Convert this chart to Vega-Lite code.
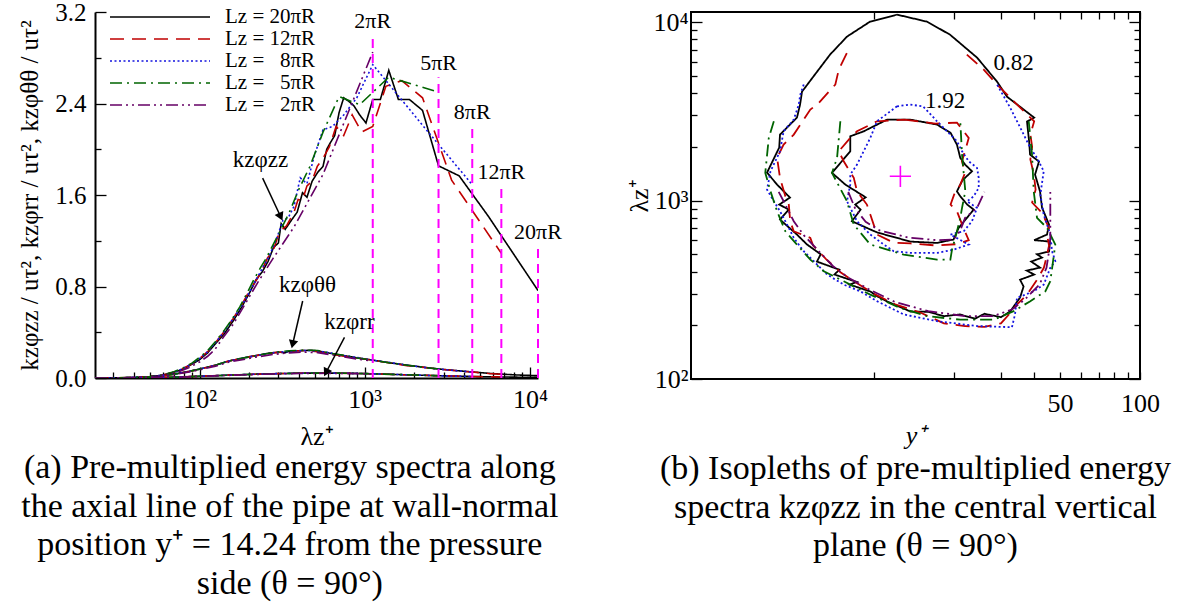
{
"$schema":"https://vega.github.io/schema/vega-lite/v6.json",
"background":"white",
"padding":{"left":17,"top":0,"right":5,"bottom":5},
"config":{"font":"Liberation Serif","view":{"stroke":null},
"axis":{"labelFont":"Liberation Serif","titleFont":"Liberation Serif","labelColor":"#000","titleColor":"#000","tickColor":"#000","domainColor":"#000","titleFontWeight":"normal","grid":false,"tickWidth":1.3,"labelFlush":false},
"legend":{"labelFont":"Liberation Serif","labelColor":"#000"},
"text":{"font":"Liberation Serif"},
"title":{"font":"Liberation Serif","fontWeight":"normal","color":"#000"}},
"datasets":{
"spec":[
{"c":"20πR","k":"zz","x":23.3,"y":0},{"c":"20πR","k":"zz","x":30,"y":0},{"c":"20πR","k":"zz","x":40,"y":0.003},{"c":"20πR","k":"zz","x":50,"y":0.01},{"c":"20πR","k":"zz","x":60,"y":0.025},{"c":"20πR","k":"zz","x":70,"y":0.05},{"c":"20πR","k":"zz","x":80,"y":0.08},{"c":"20πR","k":"zz","x":90,"y":0.12},{"c":"20πR","k":"zz","x":100,"y":0.16},{"c":"20πR","k":"zz","x":112,"y":0.22},{"c":"20πR","k":"zz","x":125,"y":0.3},{"c":"20πR","k":"zz","x":140,"y":0.38},{"c":"20πR","k":"zz","x":160,"y":0.5},{"c":"20πR","k":"zz","x":180,"y":0.62},{"c":"20πR","k":"zz","x":200,"y":0.74},{"c":"20πR","k":"zz","x":220,"y":0.86},{"c":"20πR","k":"zz","x":240,"y":0.93},{"c":"20πR","k":"zz","x":260,"y":1.02},{"c":"20πR","k":"zz","x":280,"y":1.14},{"c":"20πR","k":"zz","x":300,"y":1.18},{"c":"20πR","k":"zz","x":312,"y":1.35},{"c":"20πR","k":"zz","x":330,"y":1.3},{"c":"20πR","k":"zz","x":360,"y":1.38},{"c":"20πR","k":"zz","x":390,"y":1.45},{"c":"20πR","k":"zz","x":420,"y":1.62},{"c":"20πR","k":"zz","x":447,"y":1.58},{"c":"20πR","k":"zz","x":480,"y":1.72},{"c":"20πR","k":"zz","x":520,"y":1.8},{"c":"20πR","k":"zz","x":559,"y":1.85},{"c":"20πR","k":"zz","x":589,"y":2.0},{"c":"20πR","k":"zz","x":621,"y":2.06},{"c":"20πR","k":"zz","x":658,"y":2.12},{"c":"20πR","k":"zz","x":699,"y":2.32},{"c":"20πR","k":"zz","x":746,"y":2.45},{"c":"20πR","k":"zz","x":799,"y":2.42},{"c":"20πR","k":"zz","x":860,"y":2.38},{"c":"20πR","k":"zz","x":932,"y":2.3},{"c":"20πR","k":"zz","x":1017,"y":2.23},{"c":"20πR","k":"zz","x":1118,"y":2.435},{"c":"20πR","k":"zz","x":1243,"y":2.435},{"c":"20πR","k":"zz","x":1398,"y":2.69},{"c":"20πR","k":"zz","x":1598,"y":2.435},{"c":"20πR","k":"zz","x":1864,"y":2.435},{"c":"20πR","k":"zz","x":2237,"y":2.34},{"c":"20πR","k":"zz","x":2796,"y":1.855},{"c":"20πR","k":"zz","x":3728,"y":1.767},{"c":"20πR","k":"zz","x":5592,"y":1.415},{"c":"20πR","k":"zz","x":11184,"y":0.765},
{"c":"12πR","k":"zz","x":23.3,"y":0},{"c":"12πR","k":"zz","x":30,"y":0},{"c":"12πR","k":"zz","x":40,"y":0.003},{"c":"12πR","k":"zz","x":50,"y":0.01},{"c":"12πR","k":"zz","x":60,"y":0.025},{"c":"12πR","k":"zz","x":70,"y":0.05},{"c":"12πR","k":"zz","x":80,"y":0.085},{"c":"12πR","k":"zz","x":90,"y":0.125},{"c":"12πR","k":"zz","x":100,"y":0.17},{"c":"12πR","k":"zz","x":112,"y":0.23},{"c":"12πR","k":"zz","x":125,"y":0.31},{"c":"12πR","k":"zz","x":140,"y":0.4},{"c":"12πR","k":"zz","x":160,"y":0.52},{"c":"12πR","k":"zz","x":180,"y":0.64},{"c":"12πR","k":"zz","x":200,"y":0.76},{"c":"12πR","k":"zz","x":224,"y":0.87},{"c":"12πR","k":"zz","x":240,"y":0.95},{"c":"12πR","k":"zz","x":258,"y":1.05},{"c":"12πR","k":"zz","x":280,"y":1.12},{"c":"12πR","k":"zz","x":305,"y":1.28},{"c":"12πR","k":"zz","x":336,"y":1.33},{"c":"12πR","k":"zz","x":373,"y":1.45},{"c":"12πR","k":"zz","x":395,"y":1.56},{"c":"12πR","k":"zz","x":419,"y":1.55},{"c":"12πR","k":"zz","x":447,"y":1.68},{"c":"12πR","k":"zz","x":479,"y":1.72},{"c":"12πR","k":"zz","x":516,"y":1.85},{"c":"12πR","k":"zz","x":559,"y":1.92},{"c":"12πR","k":"zz","x":610,"y":2.02},{"c":"12πR","k":"zz","x":671,"y":2.2},{"c":"12πR","k":"zz","x":746,"y":2.12},{"c":"12πR","k":"zz","x":839,"y":2.3},{"c":"12πR","k":"zz","x":959,"y":2.15},{"c":"12πR","k":"zz","x":1118,"y":2.2},{"c":"12πR","k":"zz","x":1342,"y":2.55},{"c":"12πR","k":"zz","x":1677,"y":2.6},{"c":"12πR","k":"zz","x":2237,"y":2.45},{"c":"12πR","k":"zz","x":3355,"y":1.73},{"c":"12πR","k":"zz","x":6710,"y":1.09},
{"c":"8πR","k":"zz","x":23.3,"y":0},{"c":"8πR","k":"zz","x":30,"y":0},{"c":"8πR","k":"zz","x":40,"y":0.003},{"c":"8πR","k":"zz","x":50,"y":0.01},{"c":"8πR","k":"zz","x":60,"y":0.025},{"c":"8πR","k":"zz","x":70,"y":0.05},{"c":"8πR","k":"zz","x":80,"y":0.085},{"c":"8πR","k":"zz","x":90,"y":0.125},{"c":"8πR","k":"zz","x":100,"y":0.17},{"c":"8πR","k":"zz","x":112,"y":0.23},{"c":"8πR","k":"zz","x":125,"y":0.31},{"c":"8πR","k":"zz","x":140,"y":0.4},{"c":"8πR","k":"zz","x":160,"y":0.52},{"c":"8πR","k":"zz","x":180,"y":0.63},{"c":"8πR","k":"zz","x":204,"y":0.77},{"c":"8πR","k":"zz","x":224,"y":0.88},{"c":"8πR","k":"zz","x":249,"y":1.0},{"c":"8πR","k":"zz","x":263,"y":1.06},{"c":"8πR","k":"zz","x":280,"y":1.15},{"c":"8πR","k":"zz","x":298,"y":1.25},{"c":"8πR","k":"zz","x":320,"y":1.38},{"c":"8πR","k":"zz","x":344,"y":1.4},{"c":"8πR","k":"zz","x":373,"y":1.5},{"c":"8πR","k":"zz","x":407,"y":1.75},{"c":"8πR","k":"zz","x":447,"y":1.7},{"c":"8πR","k":"zz","x":497,"y":1.95},{"c":"8πR","k":"zz","x":559,"y":2.17},{"c":"8πR","k":"zz","x":639,"y":2.2},{"c":"8πR","k":"zz","x":746,"y":2.3},{"c":"8πR","k":"zz","x":895,"y":2.45},{"c":"8πR","k":"zz","x":1118,"y":2.74},{"c":"8πR","k":"zz","x":1491,"y":2.52},{"c":"8πR","k":"zz","x":2237,"y":2.21},{"c":"8πR","k":"zz","x":4474,"y":1.69},
{"c":"5πR","k":"zz","x":23.3,"y":0},{"c":"5πR","k":"zz","x":30,"y":0},{"c":"5πR","k":"zz","x":40,"y":0.004},{"c":"5πR","k":"zz","x":50,"y":0.012},{"c":"5πR","k":"zz","x":60,"y":0.028},{"c":"5πR","k":"zz","x":70,"y":0.055},{"c":"5πR","k":"zz","x":80,"y":0.09},{"c":"5πR","k":"zz","x":90,"y":0.13},{"c":"5πR","k":"zz","x":100,"y":0.18},{"c":"5πR","k":"zz","x":112,"y":0.24},{"c":"5πR","k":"zz","x":125,"y":0.32},{"c":"5πR","k":"zz","x":140,"y":0.41},{"c":"5πR","k":"zz","x":155,"y":0.5},{"c":"5πR","k":"zz","x":175,"y":0.62},{"c":"5πR","k":"zz","x":200,"y":0.78},{"c":"5πR","k":"zz","x":215,"y":0.87},{"c":"5πR","k":"zz","x":233,"y":0.96},{"c":"5πR","k":"zz","x":254,"y":1.05},{"c":"5πR","k":"zz","x":280,"y":1.17},{"c":"5πR","k":"zz","x":311,"y":1.3},{"c":"5πR","k":"zz","x":350,"y":1.45},{"c":"5πR","k":"zz","x":399,"y":1.65},{"c":"5πR","k":"zz","x":466,"y":1.85},{"c":"5πR","k":"zz","x":559,"y":2.15},{"c":"5πR","k":"zz","x":699,"y":2.46},{"c":"5πR","k":"zz","x":932,"y":2.39},{"c":"5πR","k":"zz","x":1398,"y":2.63},{"c":"5πR","k":"zz","x":2796,"y":2.5},
{"c":"2πR","k":"zz","x":23.3,"y":0},{"c":"2πR","k":"zz","x":28,"y":0},{"c":"2πR","k":"zz","x":37,"y":0.002},{"c":"2πR","k":"zz","x":47,"y":0.008},{"c":"2πR","k":"zz","x":56,"y":0.017},{"c":"2πR","k":"zz","x":64,"y":0.03},{"c":"2πR","k":"zz","x":75,"y":0.055},{"c":"2πR","k":"zz","x":86,"y":0.09},{"c":"2πR","k":"zz","x":100,"y":0.14},{"c":"2πR","k":"zz","x":112,"y":0.19},{"c":"2πR","k":"zz","x":124,"y":0.25},{"c":"2πR","k":"zz","x":140,"y":0.36},{"c":"2πR","k":"zz","x":160,"y":0.47},{"c":"2πR","k":"zz","x":186,"y":0.63},{"c":"2πR","k":"zz","x":224,"y":0.83},{"c":"2πR","k":"zz","x":280,"y":1.05},{"c":"2πR","k":"zz","x":373,"y":1.32},{"c":"2πR","k":"zz","x":559,"y":1.78},{"c":"2πR","k":"zz","x":1118,"y":2.85},
{"c":"20πR","k":"tt","x":23.3,"y":0},{"c":"20πR","k":"tt","x":30,"y":0.001},{"c":"20πR","k":"tt","x":40,"y":0.004},{"c":"20πR","k":"tt","x":50,"y":0.011},{"c":"20πR","k":"tt","x":60,"y":0.021},{"c":"20πR","k":"tt","x":70,"y":0.034},{"c":"20πR","k":"tt","x":85,"y":0.056},{"c":"20πR","k":"tt","x":100,"y":0.078},{"c":"20πR","k":"tt","x":125,"y":0.113},{"c":"20πR","k":"tt","x":150,"y":0.148},{"c":"20πR","k":"tt","x":190,"y":0.18},{"c":"20πR","k":"tt","x":225,"y":0.199},{"c":"20πR","k":"tt","x":250,"y":0.212},{"c":"20πR","k":"tt","x":280,"y":0.222},{"c":"20πR","k":"tt","x":300,"y":0.226},{"c":"20πR","k":"tt","x":330,"y":0.221},{"c":"20πR","k":"tt","x":350,"y":0.235},{"c":"20πR","k":"tt","x":380,"y":0.238},{"c":"20πR","k":"tt","x":430,"y":0.24},{"c":"20πR","k":"tt","x":470,"y":0.243},{"c":"20πR","k":"tt","x":520,"y":0.237},{"c":"20πR","k":"tt","x":620,"y":0.216},{"c":"20πR","k":"tt","x":750,"y":0.196},{"c":"20πR","k":"tt","x":900,"y":0.176},{"c":"20πR","k":"tt","x":1118,"y":0.156},{"c":"20πR","k":"tt","x":1400,"y":0.134},{"c":"20πR","k":"tt","x":1800,"y":0.113},{"c":"20πR","k":"tt","x":2300,"y":0.093},{"c":"20πR","k":"tt","x":2796,"y":0.079},{"c":"20πR","k":"tt","x":3700,"y":0.063},{"c":"20πR","k":"tt","x":4474,"y":0.053},{"c":"20πR","k":"tt","x":5600,"y":0.041},{"c":"20πR","k":"tt","x":6710,"y":0.034},{"c":"20πR","k":"tt","x":8500,"y":0.026},{"c":"20πR","k":"tt","x":11184,"y":0.02},
{"c":"12πR","k":"tt","x":23.3,"y":0},{"c":"12πR","k":"tt","x":30,"y":0.001},{"c":"12πR","k":"tt","x":40,"y":0.004},{"c":"12πR","k":"tt","x":50,"y":0.01},{"c":"12πR","k":"tt","x":60,"y":0.02},{"c":"12πR","k":"tt","x":70,"y":0.033},{"c":"12πR","k":"tt","x":85,"y":0.055},{"c":"12πR","k":"tt","x":100,"y":0.077},{"c":"12πR","k":"tt","x":125,"y":0.112},{"c":"12πR","k":"tt","x":150,"y":0.148},{"c":"12πR","k":"tt","x":190,"y":0.178},{"c":"12πR","k":"tt","x":225,"y":0.198},{"c":"12πR","k":"tt","x":280,"y":0.22},{"c":"12πR","k":"tt","x":350,"y":0.234},{"c":"12πR","k":"tt","x":430,"y":0.24},{"c":"12πR","k":"tt","x":520,"y":0.229},{"c":"12πR","k":"tt","x":620,"y":0.208},{"c":"12πR","k":"tt","x":750,"y":0.19},{"c":"12πR","k":"tt","x":900,"y":0.175},{"c":"12πR","k":"tt","x":1118,"y":0.155},{"c":"12πR","k":"tt","x":1400,"y":0.133},{"c":"12πR","k":"tt","x":1800,"y":0.108},{"c":"12πR","k":"tt","x":2300,"y":0.092},{"c":"12πR","k":"tt","x":2796,"y":0.078},{"c":"12πR","k":"tt","x":3700,"y":0.062},{"c":"12πR","k":"tt","x":4474,"y":0.052},{"c":"12πR","k":"tt","x":5600,"y":0.04},{"c":"12πR","k":"tt","x":6710,"y":0.033},
{"c":"8πR","k":"tt","x":23.3,"y":0},{"c":"8πR","k":"tt","x":30,"y":0.001},{"c":"8πR","k":"tt","x":40,"y":0.004},{"c":"8πR","k":"tt","x":50,"y":0.01},{"c":"8πR","k":"tt","x":60,"y":0.02},{"c":"8πR","k":"tt","x":70,"y":0.033},{"c":"8πR","k":"tt","x":85,"y":0.055},{"c":"8πR","k":"tt","x":100,"y":0.077},{"c":"8πR","k":"tt","x":125,"y":0.112},{"c":"8πR","k":"tt","x":150,"y":0.148},{"c":"8πR","k":"tt","x":190,"y":0.178},{"c":"8πR","k":"tt","x":225,"y":0.198},{"c":"8πR","k":"tt","x":280,"y":0.22},{"c":"8πR","k":"tt","x":350,"y":0.234},{"c":"8πR","k":"tt","x":430,"y":0.24},{"c":"8πR","k":"tt","x":520,"y":0.236},{"c":"8πR","k":"tt","x":620,"y":0.219},{"c":"8πR","k":"tt","x":750,"y":0.195},{"c":"8πR","k":"tt","x":900,"y":0.179},{"c":"8πR","k":"tt","x":1118,"y":0.155},{"c":"8πR","k":"tt","x":1400,"y":0.137},{"c":"8πR","k":"tt","x":1800,"y":0.112},{"c":"8πR","k":"tt","x":2300,"y":0.092},{"c":"8πR","k":"tt","x":2796,"y":0.078},{"c":"8πR","k":"tt","x":3700,"y":0.062},{"c":"8πR","k":"tt","x":4474,"y":0.052},
{"c":"5πR","k":"tt","x":23.3,"y":0},{"c":"5πR","k":"tt","x":30,"y":0.001},{"c":"5πR","k":"tt","x":40,"y":0.004},{"c":"5πR","k":"tt","x":50,"y":0.01},{"c":"5πR","k":"tt","x":60,"y":0.02},{"c":"5πR","k":"tt","x":70,"y":0.033},{"c":"5πR","k":"tt","x":85,"y":0.055},{"c":"5πR","k":"tt","x":100,"y":0.077},{"c":"5πR","k":"tt","x":125,"y":0.112},{"c":"5πR","k":"tt","x":150,"y":0.148},{"c":"5πR","k":"tt","x":190,"y":0.178},{"c":"5πR","k":"tt","x":225,"y":0.198},{"c":"5πR","k":"tt","x":280,"y":0.223},{"c":"5πR","k":"tt","x":350,"y":0.238},{"c":"5πR","k":"tt","x":430,"y":0.244},{"c":"5πR","k":"tt","x":520,"y":0.24},{"c":"5πR","k":"tt","x":620,"y":0.215},{"c":"5πR","k":"tt","x":750,"y":0.198},{"c":"5πR","k":"tt","x":900,"y":0.175},{"c":"5πR","k":"tt","x":1118,"y":0.155},{"c":"5πR","k":"tt","x":1400,"y":0.133},{"c":"5πR","k":"tt","x":1800,"y":0.112},{"c":"5πR","k":"tt","x":2300,"y":0.092},{"c":"5πR","k":"tt","x":2796,"y":0.078},
{"c":"2πR","k":"tt","x":23.3,"y":0},{"c":"2πR","k":"tt","x":30,"y":0.001},{"c":"2πR","k":"tt","x":40,"y":0.004},{"c":"2πR","k":"tt","x":50,"y":0.009},{"c":"2πR","k":"tt","x":60,"y":0.018},{"c":"2πR","k":"tt","x":70,"y":0.03},{"c":"2πR","k":"tt","x":85,"y":0.05},{"c":"2πR","k":"tt","x":100,"y":0.071},{"c":"2πR","k":"tt","x":125,"y":0.104},{"c":"2πR","k":"tt","x":150,"y":0.138},{"c":"2πR","k":"tt","x":190,"y":0.166},{"c":"2πR","k":"tt","x":225,"y":0.185},{"c":"2πR","k":"tt","x":280,"y":0.206},{"c":"2πR","k":"tt","x":350,"y":0.22},{"c":"2πR","k":"tt","x":430,"y":0.226},{"c":"2πR","k":"tt","x":520,"y":0.222},{"c":"2πR","k":"tt","x":620,"y":0.204},{"c":"2πR","k":"tt","x":750,"y":0.185},{"c":"2πR","k":"tt","x":900,"y":0.166},{"c":"2πR","k":"tt","x":1118,"y":0.148},
{"c":"20πR","k":"rr","x":23.3,"y":0},{"c":"20πR","k":"rr","x":30,"y":0},{"c":"20πR","k":"rr","x":50,"y":0.002},{"c":"20πR","k":"rr","x":70,"y":0.007},{"c":"20πR","k":"rr","x":100,"y":0.015},{"c":"20πR","k":"rr","x":150,"y":0.025},{"c":"20πR","k":"rr","x":250,"y":0.036},{"c":"20πR","k":"rr","x":400,"y":0.042},{"c":"20πR","k":"rr","x":600,"y":0.043},{"c":"20πR","k":"rr","x":900,"y":0.04},{"c":"20πR","k":"rr","x":1118,"y":0.037},{"c":"20πR","k":"rr","x":1300,"y":0.034},{"c":"20πR","k":"rr","x":2000,"y":0.026},{"c":"20πR","k":"rr","x":2796,"y":0.02},{"c":"20πR","k":"rr","x":4474,"y":0.013},{"c":"20πR","k":"rr","x":6710,"y":0.009},{"c":"20πR","k":"rr","x":11184,"y":0.005},
{"c":"12πR","k":"rr","x":23.3,"y":0},{"c":"12πR","k":"rr","x":30,"y":0},{"c":"12πR","k":"rr","x":50,"y":0.002},{"c":"12πR","k":"rr","x":70,"y":0.007},{"c":"12πR","k":"rr","x":100,"y":0.015},{"c":"12πR","k":"rr","x":150,"y":0.025},{"c":"12πR","k":"rr","x":250,"y":0.036},{"c":"12πR","k":"rr","x":400,"y":0.042},{"c":"12πR","k":"rr","x":600,"y":0.043},{"c":"12πR","k":"rr","x":900,"y":0.04},{"c":"12πR","k":"rr","x":1118,"y":0.037},{"c":"12πR","k":"rr","x":1300,"y":0.034},{"c":"12πR","k":"rr","x":2000,"y":0.026},{"c":"12πR","k":"rr","x":2796,"y":0.02},{"c":"12πR","k":"rr","x":4474,"y":0.013},{"c":"12πR","k":"rr","x":6710,"y":0.009},
{"c":"8πR","k":"rr","x":23.3,"y":0},{"c":"8πR","k":"rr","x":30,"y":0},{"c":"8πR","k":"rr","x":50,"y":0.002},{"c":"8πR","k":"rr","x":70,"y":0.007},{"c":"8πR","k":"rr","x":100,"y":0.015},{"c":"8πR","k":"rr","x":150,"y":0.025},{"c":"8πR","k":"rr","x":250,"y":0.036},{"c":"8πR","k":"rr","x":400,"y":0.042},{"c":"8πR","k":"rr","x":600,"y":0.043},{"c":"8πR","k":"rr","x":900,"y":0.04},{"c":"8πR","k":"rr","x":1118,"y":0.037},{"c":"8πR","k":"rr","x":1300,"y":0.034},{"c":"8πR","k":"rr","x":2000,"y":0.026},{"c":"8πR","k":"rr","x":2796,"y":0.02},{"c":"8πR","k":"rr","x":4474,"y":0.013},
{"c":"5πR","k":"rr","x":23.3,"y":0},{"c":"5πR","k":"rr","x":30,"y":0},{"c":"5πR","k":"rr","x":50,"y":0.002},{"c":"5πR","k":"rr","x":70,"y":0.007},{"c":"5πR","k":"rr","x":100,"y":0.015},{"c":"5πR","k":"rr","x":150,"y":0.025},{"c":"5πR","k":"rr","x":250,"y":0.036},{"c":"5πR","k":"rr","x":400,"y":0.042},{"c":"5πR","k":"rr","x":600,"y":0.043},{"c":"5πR","k":"rr","x":900,"y":0.04},{"c":"5πR","k":"rr","x":1118,"y":0.037},{"c":"5πR","k":"rr","x":1300,"y":0.034},{"c":"5πR","k":"rr","x":2000,"y":0.026},{"c":"5πR","k":"rr","x":2796,"y":0.02},
{"c":"2πR","k":"rr","x":23.3,"y":0},{"c":"2πR","k":"rr","x":30,"y":0},{"c":"2πR","k":"rr","x":50,"y":0.002},{"c":"2πR","k":"rr","x":70,"y":0.006},{"c":"2πR","k":"rr","x":100,"y":0.014},{"c":"2πR","k":"rr","x":150,"y":0.023},{"c":"2πR","k":"rr","x":250,"y":0.034},{"c":"2πR","k":"rr","x":400,"y":0.04},{"c":"2πR","k":"rr","x":600,"y":0.041},{"c":"2πR","k":"rr","x":900,"y":0.038},{"c":"2πR","k":"rr","x":1118,"y":0.035}
],
"vl":[{"x":1118,"b":0,"y":3.0,"t":"2πR"},{"x":2796,"b":0,"y":2.63,"t":"5πR"},{"x":4474,"b":0,"y":2.2,"t":"8πR"},{"x":6710,"b":0,"y":1.68,"t":"12πR"},{"x":11184,"b":0,"y":1.15,"t":"20πR"}],
"ann":[{"t":"kzφzz","x":234,"y":1.905,"x1":241,"y1":1.747,"x2":310,"y2":1.41},{"t":"kzφθθ","x":451,"y":0.814,"x1":421,"y1":0.673,"x2":366,"y2":0.295},{"t":"kzφrr","x":808,"y":0.488,"x1":754,"y1":0.356,"x2":583,"y2":0.048}],
"cont":[
{"c":"20πR","l":"o","o":1,"x":12.2,"y":11020},{"c":"20πR","l":"o","o":2,"x":15.8,"y":10065},{"c":"20πR","l":"o","o":3,"x":19.3,"y":8511},{"c":"20πR","l":"o","o":4,"x":24.4,"y":6326},{"c":"20πR","l":"o","o":5,"x":29.0,"y":4642},{"c":"20πR","l":"o","o":6,"x":31.6,"y":3824},{"c":"20πR","l":"o","o":7,"x":40.0,"y":2917},{"c":"20πR","l":"o","o":8,"x":37.6,"y":2771},{"c":"20πR","l":"o","o":9,"x":38.3,"y":2141},{"c":"20πR","l":"o","o":10,"x":38.6,"y":1810},{"c":"20πR","l":"o","o":11,"x":41.7,"y":1654},{"c":"20πR","l":"o","o":12,"x":40.3,"y":1399},{"c":"20πR","l":"o","o":13,"x":42.1,"y":1123},{"c":"20πR","l":"o","o":14,"x":42.8,"y":914},{"c":"20πR","l":"o","o":15,"x":45.5,"y":734},{"c":"20πR","l":"o","o":16,"x":44.7,"y":645},{"c":"20πR","l":"o","o":17,"x":40.0,"y":600},{"c":"20πR","l":"o","o":18,"x":45.9,"y":589},{"c":"20πR","l":"o","o":19,"x":45.5,"y":518},{"c":"20πR","l":"o","o":20,"x":41.0,"y":500},{"c":"20πR","l":"o","o":21,"x":42.8,"y":479},{"c":"20πR","l":"o","o":22,"x":39.0,"y":455},{"c":"20πR","l":"o","o":23,"x":42.1,"y":421},{"c":"20πR","l":"o","o":24,"x":37.5,"y":405},{"c":"20πR","l":"o","o":25,"x":40.0,"y":385},{"c":"20πR","l":"o","o":26,"x":35.4,"y":360},{"c":"20πR","l":"o","o":27,"x":36.5,"y":330},{"c":"20πR","l":"o","o":28,"x":35.4,"y":286},{"c":"20πR","l":"o","o":29,"x":32.5,"y":239},{"c":"20πR","l":"o","o":30,"x":30.0,"y":222},{"c":"20πR","l":"o","o":31,"x":26.0,"y":232},{"c":"20πR","l":"o","o":32,"x":24.0,"y":218},{"c":"20πR","l":"o","o":33,"x":21.0,"y":230},{"c":"20πR","l":"o","o":34,"x":18.3,"y":225},{"c":"20πR","l":"o","o":35,"x":16.0,"y":238},{"c":"20πR","l":"o","o":36,"x":13.7,"y":239},{"c":"20πR","l":"o","o":37,"x":11.2,"y":272},{"c":"20πR","l":"o","o":38,"x":10.3,"y":290},{"c":"20πR","l":"o","o":39,"x":9.7,"y":309},{"c":"20πR","l":"o","o":40,"x":8.1,"y":338},{"c":"20πR","l":"o","o":41,"x":8.6,"y":350},{"c":"20πR","l":"o","o":42,"x":7.1,"y":385},{"c":"20πR","l":"o","o":43,"x":7.4,"y":410},{"c":"20πR","l":"o","o":44,"x":6.1,"y":455},{"c":"20πR","l":"o","o":45,"x":6.3,"y":500},{"c":"20πR","l":"o","o":46,"x":5.6,"y":567},{"c":"20πR","l":"o","o":47,"x":5.13,"y":645},{"c":"20πR","l":"o","o":48,"x":4.43,"y":783},{"c":"20πR","l":"o","o":49,"x":4.78,"y":890},{"c":"20πR","l":"o","o":50,"x":4.4,"y":950},{"c":"20πR","l":"o","o":51,"x":4.83,"y":1039},{"c":"20πR","l":"o","o":52,"x":4.32,"y":1229},{"c":"20πR","l":"o","o":53,"x":3.96,"y":1435},{"c":"20πR","l":"o","o":54,"x":4.4,"y":1982},{"c":"20πR","l":"o","o":55,"x":4.43,"y":2343},{"c":"20πR","l":"o","o":56,"x":5.13,"y":2917},{"c":"20πR","l":"o","o":57,"x":5.27,"y":3450},{"c":"20πR","l":"o","o":58,"x":5.36,"y":4079},{"c":"20πR","l":"o","o":59,"x":6.11,"y":5282},{"c":"20πR","l":"o","o":60,"x":6.83,"y":6575},{"c":"20πR","l":"o","o":61,"x":7.91,"y":8296},{"c":"20πR","l":"o","o":62,"x":9.66,"y":10065},{"c":"20πR","l":"o","o":63,"x":12.2,"y":11020},
{"c":"20πR","l":"i","o":1,"x":13.7,"y":2843},{"c":"20πR","l":"i","o":2,"x":17.25,"y":2666},{"c":"20πR","l":"i","o":3,"x":19.4,"y":2395},{"c":"20πR","l":"i","o":4,"x":20.5,"y":2059},{"c":"20πR","l":"i","o":5,"x":21.1,"y":1735},{"c":"20πR","l":"i","o":6,"x":22.0,"y":1591},{"c":"20πR","l":"i","o":7,"x":23.35,"y":1459},{"c":"20πR","l":"i","o":8,"x":21.5,"y":1300},{"c":"20πR","l":"i","o":9,"x":20.5,"y":1127},{"c":"20πR","l":"i","o":10,"x":21.1,"y":1057},{"c":"20πR","l":"i","o":11,"x":22.4,"y":950},{"c":"20πR","l":"i","o":12,"x":23.7,"y":890},{"c":"20πR","l":"i","o":13,"x":20.8,"y":703},{"c":"20πR","l":"i","o":14,"x":19.9,"y":605},{"c":"20πR","l":"i","o":15,"x":17.25,"y":579},{"c":"20πR","l":"i","o":16,"x":13.7,"y":589},{"c":"20πR","l":"i","o":17,"x":10.3,"y":662},{"c":"20πR","l":"i","o":18,"x":9.7,"y":688},{"c":"20πR","l":"i","o":19,"x":8.26,"y":766},{"c":"20πR","l":"i","o":20,"x":8.9,"y":890},{"c":"20πR","l":"i","o":21,"x":8.5,"y":950},{"c":"20πR","l":"i","o":22,"x":9.3,"y":1043},{"c":"20πR","l":"i","o":23,"x":7.8,"y":1229},{"c":"20πR","l":"i","o":24,"x":6.95,"y":1430},{"c":"20πR","l":"i","o":25,"x":8.14,"y":1889},{"c":"20πR","l":"i","o":26,"x":8.14,"y":2293},{"c":"20πR","l":"i","o":27,"x":9.15,"y":2445},{"c":"20πR","l":"i","o":28,"x":9.7,"y":2555},{"c":"20πR","l":"i","o":29,"x":11.2,"y":2843},{"c":"20πR","l":"i","o":30,"x":13.7,"y":2843},
{"c":"12πR","l":"o","o":1,"x":7.9,"y":6710},{"c":"12πR","l":"o","o":2,"x":7.37,"y":5418},{"c":"12πR","l":"o","o":3,"x":7.15,"y":4467},{"c":"12πR","l":"o","o":4,"x":6.2,"y":3527},{"c":"12πR","l":"o","o":5,"x":5.76,"y":3234},{"c":"12πR","l":"o","o":6,"x":4.99,"y":2343},{"c":"12πR","l":"o","o":7,"x":4.57,"y":2059},{"c":"12πR","l":"o","o":8,"x":4.32,"y":1735},{"c":"12πR","l":"o","o":9,"x":4.43,"y":1340},{"c":"12πR","l":"o","o":10,"x":4.64,"y":1057},{"c":"12πR","l":"o","o":11,"x":4.78,"y":950},{"c":"12πR","l":"o","o":12,"x":4.84,"y":766},{"c":"12πR","l":"o","o":13,"x":4.99,"y":673},{"c":"12πR","l":"o","o":14,"x":5.76,"y":618},{"c":"12πR","l":"o","o":15,"x":5.9,"y":560},{"c":"12πR","l":"o","o":16,"x":6.6,"y":470},{"c":"12πR","l":"o","o":17,"x":7.5,"y":395},{"c":"12πR","l":"o","o":18,"x":8.6,"y":345},{"c":"12πR","l":"o","o":19,"x":10,"y":300},{"c":"12πR","l":"o","o":20,"x":12,"y":262},{"c":"12πR","l":"o","o":21,"x":15,"y":235},{"c":"12πR","l":"o","o":22,"x":18.3,"y":205},{"c":"12πR","l":"o","o":23,"x":22,"y":198},{"c":"12πR","l":"o","o":24,"x":26,"y":196},{"c":"12πR","l":"o","o":25,"x":30,"y":205},{"c":"12πR","l":"o","o":26,"x":33,"y":240},{"c":"12πR","l":"o","o":27,"x":34.5,"y":262},{"c":"12πR","l":"o","o":28,"x":37.6,"y":297},{"c":"12πR","l":"o","o":29,"x":41,"y":360},{"c":"12πR","l":"o","o":30,"x":43.5,"y":420},{"c":"12πR","l":"o","o":31,"x":44.5,"y":480},{"c":"12πR","l":"o","o":32,"x":45.5,"y":560},{"c":"12πR","l":"o","o":33,"x":44.7,"y":645},{"c":"12πR","l":"o","o":34,"x":45.5,"y":700},{"c":"12πR","l":"o","o":35,"x":42.8,"y":855},{"c":"12πR","l":"o","o":36,"x":39.3,"y":975},{"c":"12πR","l":"o","o":37,"x":40.5,"y":1150},{"c":"12πR","l":"o","o":38,"x":39.9,"y":1400},{"c":"12πR","l":"o","o":39,"x":38.7,"y":1700},{"c":"12πR","l":"o","o":40,"x":39.3,"y":2000},{"c":"12πR","l":"o","o":41,"x":38.7,"y":2343},{"c":"12πR","l":"o","o":42,"x":40,"y":2782},{"c":"12πR","l":"o","o":43,"x":34.5,"y":3450},{"c":"12πR","l":"o","o":44,"x":29,"y":4467},{"c":"12πR","l":"o","o":45,"x":25.9,"y":5400},{"c":"12πR","l":"o","o":46,"x":22,"y":6710},
{"c":"12πR","l":"i","o":1,"x":13,"y":2843},{"c":"12πR","l":"i","o":2,"x":17,"y":2700},{"c":"12πR","l":"i","o":3,"x":20.5,"y":2735},{"c":"12πR","l":"i","o":4,"x":22.7,"y":2245},{"c":"12πR","l":"i","o":5,"x":22,"y":1900},{"c":"12πR","l":"i","o":6,"x":21.4,"y":1660},{"c":"12πR","l":"i","o":7,"x":22,"y":1430},{"c":"12πR","l":"i","o":8,"x":21.1,"y":1229},{"c":"12πR","l":"i","o":9,"x":20,"y":1080},{"c":"12πR","l":"i","o":10,"x":19.4,"y":950},{"c":"12πR","l":"i","o":11,"x":20.5,"y":871},{"c":"12πR","l":"i","o":12,"x":21.7,"y":700},{"c":"12πR","l":"i","o":13,"x":22.7,"y":600},{"c":"12πR","l":"i","o":14,"x":20.5,"y":570},{"c":"12πR","l":"i","o":15,"x":17.25,"y":560},{"c":"12πR","l":"i","o":16,"x":13.7,"y":575},{"c":"12πR","l":"i","o":17,"x":11.86,"y":580},{"c":"12πR","l":"i","o":18,"x":10.26,"y":645},{"c":"12πR","l":"i","o":19,"x":9.68,"y":835},{"c":"12πR","l":"i","o":20,"x":9.4,"y":950},{"c":"12πR","l":"i","o":21,"x":8.63,"y":1127},{"c":"12πR","l":"i","o":22,"x":8.39,"y":1340},{"c":"12πR","l":"i","o":23,"x":7.69,"y":1660},{"c":"12πR","l":"i","o":24,"x":7.37,"y":1889},{"c":"12πR","l":"i","o":25,"x":8.14,"y":2245},{"c":"12πR","l":"i","o":26,"x":8.63,"y":2445},{"c":"12πR","l":"i","o":27,"x":10.26,"y":2782},{"c":"12πR","l":"i","o":28,"x":13,"y":2843},
{"c":"8πR","l":"o","o":1,"x":5.44,"y":4474},{"c":"8πR","l":"o","o":2,"x":5.28,"y":3925},{"c":"8πR","l":"o","o":3,"x":5.21,"y":3450},{"c":"8πR","l":"o","o":4,"x":4.99,"y":2843},{"c":"8πR","l":"o","o":5,"x":4.57,"y":2445},{"c":"8πR","l":"o","o":6,"x":4.43,"y":1889},{"c":"8πR","l":"o","o":7,"x":4.08,"y":1459},{"c":"8πR","l":"o","o":8,"x":3.96,"y":1152},{"c":"8πR","l":"o","o":9,"x":4.2,"y":991},{"c":"8πR","l":"o","o":10,"x":4.43,"y":871},{"c":"8πR","l":"o","o":11,"x":4.71,"y":734},{"c":"8πR","l":"o","o":12,"x":4.99,"y":618},{"c":"8πR","l":"o","o":13,"x":5.44,"y":520},{"c":"8πR","l":"o","o":14,"x":6.11,"y":438},{"c":"8πR","l":"o","o":15,"x":6.66,"y":385},{"c":"8πR","l":"o","o":16,"x":7.69,"y":338},{"c":"8πR","l":"o","o":17,"x":8.88,"y":310},{"c":"8πR","l":"o","o":18,"x":10.26,"y":273},{"c":"8πR","l":"o","o":19,"x":12.93,"y":230},{"c":"8πR","l":"o","o":20,"x":17.25,"y":211},{"c":"8πR","l":"o","o":21,"x":24.39,"y":198},{"c":"8πR","l":"o","o":22,"x":33,"y":195},{"c":"8πR","l":"o","o":23,"x":33.88,"y":230},{"c":"8πR","l":"o","o":24,"x":34.47,"y":285},{"c":"8πR","l":"o","o":25,"x":39.85,"y":310},{"c":"8πR","l":"o","o":26,"x":43.45,"y":338},{"c":"8πR","l":"o","o":27,"x":46,"y":420},{"c":"8πR","l":"o","o":28,"x":48.04,"y":457},{"c":"8πR","l":"o","o":29,"x":46.7,"y":520},{"c":"8πR","l":"o","o":30,"x":46,"y":645},{"c":"8πR","l":"o","o":31,"x":43.45,"y":835},{"c":"8πR","l":"o","o":32,"x":42.2,"y":1080},{"c":"8πR","l":"o","o":33,"x":43.45,"y":1459},{"c":"8πR","l":"o","o":34,"x":41,"y":1735},{"c":"8πR","l":"o","o":35,"x":38.69,"y":1973},{"c":"8πR","l":"o","o":36,"x":36.54,"y":2343},{"c":"8πR","l":"o","o":37,"x":32.54,"y":3306},{"c":"8πR","l":"o","o":38,"x":29,"y":4474},
{"c":"8πR","l":"i","o":1,"x":12.2,"y":3376},{"c":"8πR","l":"i","o":2,"x":13.66,"y":3450},{"c":"8πR","l":"i","o":3,"x":15.28,"y":3376},{"c":"8πR","l":"i","o":4,"x":17.25,"y":2782},{"c":"8πR","l":"i","o":5,"x":18.81,"y":2445},{"c":"8πR","l":"i","o":6,"x":20.51,"y":2149},{"c":"8πR","l":"i","o":7,"x":21.42,"y":1889},{"c":"8πR","l":"i","o":8,"x":22.7,"y":1660},{"c":"8πR","l":"i","o":9,"x":24.39,"y":1525},{"c":"8πR","l":"i","o":10,"x":24.75,"y":1340},{"c":"8πR","l":"i","o":11,"x":24.75,"y":1178},{"c":"8πR","l":"i","o":12,"x":23.7,"y":1057},{"c":"8πR","l":"i","o":13,"x":22.37,"y":991},{"c":"8πR","l":"i","o":14,"x":24.39,"y":910},{"c":"8πR","l":"i","o":15,"x":23.35,"y":766},{"c":"8πR","l":"i","o":16,"x":21.74,"y":673},{"c":"8πR","l":"i","o":17,"x":19.36,"y":645},{"c":"8πR","l":"i","o":18,"x":22.7,"y":567},{"c":"8πR","l":"i","o":19,"x":19.94,"y":531},{"c":"8πR","l":"i","o":20,"x":17.25,"y":509},{"c":"8πR","l":"i","o":21,"x":13.69,"y":509},{"c":"8πR","l":"i","o":22,"x":11.86,"y":520},{"c":"8πR","l":"i","o":23,"x":10.88,"y":567},{"c":"8πR","l":"i","o":24,"x":9.68,"y":645},{"c":"8πR","l":"i","o":25,"x":8.63,"y":766},{"c":"8πR","l":"i","o":26,"x":7.91,"y":991},{"c":"8πR","l":"i","o":27,"x":8.14,"y":1229},{"c":"8πR","l":"i","o":28,"x":8.14,"y":1399},{"c":"8πR","l":"i","o":29,"x":8.63,"y":1591},{"c":"8πR","l":"i","o":30,"x":9.68,"y":2245},{"c":"8πR","l":"i","o":31,"x":10.26,"y":2782},{"c":"8πR","l":"i","o":32,"x":12.2,"y":3376},
{"c":"5πR","l":"o","o":1,"x":4.2,"y":2782},{"c":"5πR","l":"o","o":2,"x":4.02,"y":2245},{"c":"5πR","l":"o","o":3,"x":3.9,"y":1430},{"c":"5πR","l":"o","o":4,"x":4.08,"y":1127},{"c":"5πR","l":"o","o":5,"x":4.32,"y":871},{"c":"5πR","l":"o","o":6,"x":4.64,"y":673},{"c":"5πR","l":"o","o":7,"x":5.13,"y":567},{"c":"5πR","l":"o","o":8,"x":5.76,"y":467},{"c":"5πR","l":"o","o":9,"x":6.47,"y":402},{"c":"5πR","l":"o","o":10,"x":7.69,"y":353},{"c":"5πR","l":"o","o":11,"x":9.68,"y":297},{"c":"5πR","l":"o","o":12,"x":12.56,"y":250},{"c":"5πR","l":"o","o":13,"x":15.82,"y":225},{"c":"5πR","l":"o","o":14,"x":21.1,"y":215},{"c":"5πR","l":"o","o":15,"x":28.18,"y":215},{"c":"5πR","l":"o","o":16,"x":33.5,"y":240},{"c":"5πR","l":"o","o":17,"x":38.69,"y":273},{"c":"5πR","l":"o","o":18,"x":44.06,"y":310},{"c":"5πR","l":"o","o":19,"x":46,"y":353},{"c":"5πR","l":"o","o":20,"x":48.04,"y":567},{"c":"5πR","l":"o","o":21,"x":44.7,"y":703},{"c":"5πR","l":"o","o":22,"x":41,"y":800},{"c":"5πR","l":"o","o":23,"x":39.85,"y":1127},{"c":"5πR","l":"o","o":24,"x":39.27,"y":1810},{"c":"5πR","l":"o","o":25,"x":38.16,"y":2782},
{"c":"5πR","l":"i","o":1,"x":7.47,"y":2782},{"c":"5πR","l":"i","o":2,"x":7.26,"y":1735},{"c":"5πR","l":"i","o":3,"x":6.95,"y":1430},{"c":"5πR","l":"i","o":4,"x":7.91,"y":991},{"c":"5πR","l":"i","o":5,"x":8.39,"y":734},{"c":"5πR","l":"i","o":6,"x":9.68,"y":567},{"c":"5πR","l":"i","o":7,"x":12.93,"y":498},{"c":"5πR","l":"i","o":8,"x":17.25,"y":467},{"c":"5πR","l":"i","o":9,"x":19.36,"y":467},{"c":"5πR","l":"i","o":10,"x":19.64,"y":531},{"c":"5πR","l":"i","o":11,"x":20.51,"y":673},{"c":"5πR","l":"i","o":12,"x":21.1,"y":800},{"c":"5πR","l":"i","o":13,"x":21.42,"y":910},{"c":"5πR","l":"i","o":14,"x":22.04,"y":1127},{"c":"5πR","l":"i","o":15,"x":21.42,"y":1810},{"c":"5πR","l":"i","o":16,"x":21.1,"y":2782},
{"c":"2πR","l":"o","o":1,"x":4.38,"y":1118},{"c":"2πR","l":"o","o":2,"x":4.64,"y":950},{"c":"2πR","l":"o","o":3,"x":4.99,"y":766},{"c":"2πR","l":"o","o":4,"x":5.44,"y":640},{"c":"2πR","l":"o","o":5,"x":6.2,"y":520},{"c":"2πR","l":"o","o":6,"x":7.0,"y":430},{"c":"2πR","l":"o","o":7,"x":8.0,"y":370},{"c":"2πR","l":"o","o":8,"x":9.5,"y":320},{"c":"2πR","l":"o","o":9,"x":12,"y":270},{"c":"2πR","l":"o","o":10,"x":16,"y":240},{"c":"2πR","l":"o","o":11,"x":22,"y":225},{"c":"2πR","l":"o","o":12,"x":28,"y":225},{"c":"2πR","l":"o","o":13,"x":33,"y":245},{"c":"2πR","l":"o","o":14,"x":37,"y":280},{"c":"2πR","l":"o","o":15,"x":42,"y":340},{"c":"2πR","l":"o","o":16,"x":44.5,"y":420},{"c":"2πR","l":"o","o":17,"x":45.5,"y":520},{"c":"2πR","l":"o","o":18,"x":46,"y":620},{"c":"2πR","l":"o","o":19,"x":46,"y":800},{"c":"2πR","l":"o","o":20,"x":46,"y":1118},
{"c":"2πR","l":"i","o":1,"x":8.0,"y":1118},{"c":"2πR","l":"i","o":2,"x":8.5,"y":900},{"c":"2πR","l":"i","o":3,"x":9.3,"y":760},{"c":"2πR","l":"i","o":4,"x":10.5,"y":680},{"c":"2πR","l":"i","o":5,"x":13.5,"y":620},{"c":"2πR","l":"i","o":6,"x":17.25,"y":600},{"c":"2πR","l":"i","o":7,"x":19.94,"y":605},{"c":"2πR","l":"i","o":8,"x":21.1,"y":680},{"c":"2πR","l":"i","o":9,"x":22,"y":800},{"c":"2πR","l":"i","o":10,"x":24.4,"y":910},{"c":"2πR","l":"i","o":11,"x":26,"y":1118}
],
"plus":[{"x":12.56,"y":1368}],
"lab":[{"x":33.5,"y":5905,"t":"0.82"},{"x":18.5,"y":3595,"t":"1.92"}]
},
"spacing":153,
"bounds":"flush",
"resolve":{"scale":{"color":"independent","strokeDash":"independent"}},
"hconcat":[
{
"width":443,"height":366,
"title":{"text":["(a) Pre-multiplied energy spectra along","the axial line of the pipe at wall-normal","position y⁺ = 14.24 from the pressure","side (θ = 90°)"],"orient":"bottom","anchor":"middle","frame":"bounds","fontSize":34,"lineHeight":38.5,"offset":2},
"layer":[
{"data":{"name":"spec"},"mark":{"type":"line","strokeWidth":1.6,"clip":true},
"encoding":{
"x":{"field":"x","type":"quantitative","scale":{"type":"log","domain":[23.3,11184],"nice":false},
"axis":{"title":"λz⁺","values":[30,40,50,60,70,80,90,100,200,300,400,500,600,700,800,900,1000,2000,3000,4000,5000,6000,7000,8000,9000,10000],"labelExpr":"datum.value==100?'10²':datum.value==1000?'10³':datum.value==10000?'10⁴':''","tickSize":{"condition":{"test":"indexof([100,1000,10000],datum.value)>=0","value":-11},"value":-6},"domainWidth":2,"labelPadding":19,"titlePadding":11,"labelFontSize":26,"titleFontSize":26}},
"y":{"field":"y","type":"quantitative","scale":{"domain":[0,3.2],"nice":false},
"axis":{"title":"kzφzz / uτ²,  kzφrr / uτ²,  kzφθθ / uτ²","values":[0,0.2,0.4,0.6,0.8,1,1.2,1.4,1.6,1.8,2,2.2,2.4,2.6,2.8,3,3.2],"labelExpr":"indexof([0,0.8,1.6,2.4,3.2],datum.value)>=0?format(datum.value,'.1f'):''","tickSize":{"condition":{"test":"indexof([0,0.8,1.6,2.4,3.2],datum.value)>=0","value":-11},"value":-6},"domainWidth":2,"labelPadding":20,"titlePadding":12,"labelFontSize":25,"titleFontSize":25}},
"color":{"field":"c","type":"nominal","scale":{"domain":["20πR","12πR","8πR","5πR","2πR"],"range":["#000000","#c00000","#1515e0","#006400","#660066"]},
"legend":{"title":null,"orient":"none","legendX":14,"legendY":-6,"symbolType":"stroke","symbolSize":10000,"symbolStrokeWidth":1.6,"clipHeight":22,"rowPadding":0,"labelFontSize":21,"labelOffset":14,"labelLimit":400,"padding":0,"labelExpr":"'Lz = ' + (length(datum.label) < 4 ? '\u00a0\u00a0' : '') + datum.label"}},
"strokeDash":{"field":"c","type":"nominal","scale":{"domain":["20πR","12πR","8πR","5πR","2πR"],"range":[[1,0],[14,8],[2,2.5],[12,5,2,5],[12,4,2,4,2,4]]},
"legend":{"title":null,"orient":"none","legendX":14,"legendY":-6,"symbolType":"stroke","symbolSize":10000,"symbolStrokeWidth":1.6,"clipHeight":22,"rowPadding":0,"labelFontSize":21,"labelOffset":14,"labelLimit":400,"padding":0,"labelExpr":"'Lz = ' + (length(datum.label) < 4 ? '\u00a0\u00a0' : '') + datum.label"}},
"detail":{"field":"k","type":"nominal"}}},
{"data":{"name":"vl"},"mark":{"type":"rule","color":"#ff00ff","strokeWidth":2,"strokeDash":[9,6]},
"encoding":{"x":{"field":"x","type":"quantitative"},"y":{"field":"b","type":"quantitative"},"y2":{"field":"y"}}},
{"data":{"name":"vl"},"mark":{"type":"text","baseline":"bottom","dy":-2,"fontSize":22,"color":"#000"},
"encoding":{"x":{"field":"x","type":"quantitative"},"y":{"field":"y","type":"quantitative"},"text":{"field":"t","type":"nominal"}}},
{"data":{"name":"ann"},"mark":{"type":"text","fontSize":23,"color":"#000","baseline":"middle"},
"encoding":{"x":{"field":"x","type":"quantitative"},"y":{"field":"y","type":"quantitative"},"text":{"field":"t","type":"nominal"}}},
{"data":{"name":"ann"},"mark":{"type":"rule","color":"#000","strokeWidth":1.5},
"encoding":{"x":{"field":"x1","type":"quantitative"},"y":{"field":"y1","type":"quantitative"},"x2":{"field":"x2"},"y2":{"field":"y2"}}},
{"data":{"name":"ann"},"transform":[{"filter":"datum.t=='kzφzz'"}],"mark":{"type":"point","shape":"triangle-down","filled":true,"color":"#000","size":90,"angle":335,"opacity":1},
"encoding":{"x":{"field":"x2","type":"quantitative"},"y":{"field":"y2","type":"quantitative"}}},
{"data":{"name":"ann"},"transform":[{"filter":"datum.t=='kzφθθ'"}],"mark":{"type":"point","shape":"triangle-down","filled":true,"color":"#000","size":90,"angle":13,"opacity":1},
"encoding":{"x":{"field":"x2","type":"quantitative"},"y":{"field":"y2","type":"quantitative"}}},
{"data":{"name":"ann"},"transform":[{"filter":"datum.t=='kzφrr'"}],"mark":{"type":"point","shape":"triangle-down","filled":true,"color":"#000","size":90,"angle":28,"opacity":1},
"encoding":{"x":{"field":"x2","type":"quantitative"},"y":{"field":"y2","type":"quantitative"}}}
]
},
{
"width":449,"height":367,
"view":{"stroke":"#000","strokeWidth":2},
"title":{"text":["(b) Isopleths of pre-multiplied energy","spectra kzφzz in the central vertical","plane (θ = 90°)"],"orient":"bottom","anchor":"middle","frame":"group","fontSize":34,"lineHeight":38.5,"offset":4},
"resolve":{"axis":{"x":"independent","y":"independent"}},
"layer":[
{"data":{"name":"cont"},"mark":{"type":"line","strokeWidth":1.8,"clip":true},
"encoding":{
"x":{"field":"x","type":"quantitative","scale":{"type":"log","domain":[2.05,100],"nice":false},
"axis":{"title":"y⁺","orient":"bottom","values":[10,20,30,40,50,60,70,80,90,100],"labelExpr":"datum.value==50?'50':datum.value==100?'100':''","tickSize":-7,"domain":false,"labelPadding":18,"titlePadding":6,"labelFontSize":26,"titleFontSize":26,"titleFontStyle":"italic"}},
"y":{"field":"y","type":"quantitative","scale":{"type":"log","domain":[100,11400],"nice":false},
"axis":{"title":"λz⁺","orient":"left","values":[100,200,300,400,500,600,700,800,900,1000,2000,3000,4000,5000,6000,7000,8000,9000,10000],"labelExpr":"datum.value==100?'10²':datum.value==1000?'10³':datum.value==10000?'10⁴':''","tickSize":{"condition":{"test":"indexof([100,1000,10000],datum.value)>=0","value":-11},"value":-6},"domain":false,"labelPadding":14,"titlePadding":0,"labelFontSize":26,"titleFontSize":26}},
"color":{"field":"c","type":"nominal","scale":{"domain":["20πR","12πR","8πR","5πR","2πR"],"range":["#000000","#c00000","#1515e0","#006400","#660066"]},"legend":null},
"strokeDash":{"field":"c","type":"nominal","scale":{"domain":["20πR","12πR","8πR","5πR","2πR"],"range":[[1,0],[14,8],[2,2.5],[12,5,2,5],[12,4,2,4,2,4]]},"legend":null},
"detail":{"field":"l","type":"nominal"},
"order":{"field":"o","type":"quantitative"}}},
{"data":{"name":"plus"},"mark":{"type":"point","shape":"M-1,0L1,0M0,-1L0,1","filled":false,"color":"#ff00ff","strokeWidth":1.6,"size":450,"opacity":1},
"encoding":{
"x":{"field":"x","type":"quantitative","axis":{"orient":"top","values":[10,20,30,40,50,60,70,80,90,100],"labels":false,"tickSize":-7,"domain":false,"title":null}},
"y":{"field":"y","type":"quantitative","axis":{"orient":"right","values":[100,200,300,400,500,600,700,800,900,1000,2000,3000,4000,5000,6000,7000,8000,9000,10000],"labels":false,"tickSize":{"condition":{"test":"indexof([100,1000,10000],datum.value)>=0","value":-11},"value":-6},"domain":false,"title":null}}}},
{"data":{"name":"lab"},"mark":{"type":"text","fontSize":23,"color":"#000"},
"encoding":{"x":{"field":"x","type":"quantitative","axis":null},"y":{"field":"y","type":"quantitative","axis":null},"text":{"field":"t","type":"nominal"}}}
]
}
]
}
